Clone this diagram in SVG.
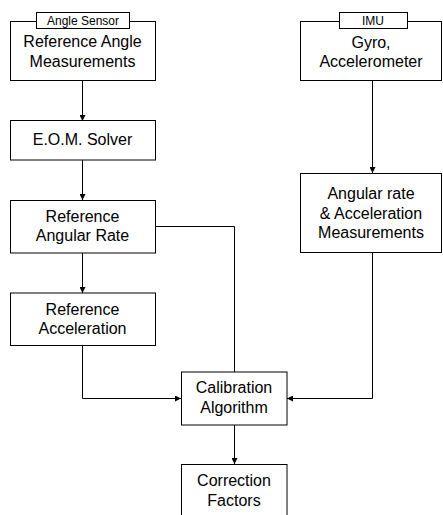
<svg xmlns="http://www.w3.org/2000/svg" width="443" height="515" viewBox="0 0 443 515">
<style>
.box{fill:#fff;stroke:#000;stroke-width:1}
.t{font-family:"Liberation Sans",Arial,sans-serif;font-size:16px;fill:#000;text-anchor:middle}
.s{font-family:"Liberation Sans",Arial,sans-serif;font-size:12px;fill:#000;text-anchor:middle}
.c{fill:none;stroke:#000;stroke-width:1}
</style>
<defs>
<marker id="ah" markerWidth="6" markerHeight="6" refX="6" refY="3" orient="auto" markerUnits="userSpaceOnUse">
<path d="M0,0 L6,3 L0,6 Z" fill="#000"/>
</marker>
</defs>
<rect width="443" height="515" fill="#fff"/>
<g id="connectors">
<path class="c" d="M82.5,81 V121" marker-end="url(#ah)"/>
<path class="c" d="M82.5,160 V200" marker-end="url(#ah)"/>
<path class="c" d="M82.5,253 V293" marker-end="url(#ah)"/>
<path class="c" d="M155,226.5 H234.5 V372"/>
<path class="c" d="M82.5,345 V398.5 H181" marker-end="url(#ah)"/>
<path class="c" d="M372.5,81 V173" marker-end="url(#ah)"/>
<path class="c" d="M372.5,252 V398.5 H287" marker-end="url(#ah)"/>
<path class="c" d="M234.5,425 V464" marker-end="url(#ah)"/>
</g>
<g id="angle-sensor">
<rect class="box" x="10.5" y="21.5" width="145" height="59"/>
<rect class="box" x="36.5" y="12.5" width="93" height="16"/>
<text class="s" x="83" y="25">Angle Sensor</text>
<text class="t" x="82.5" y="47">Reference Angle</text>
<text class="t" x="82.5" y="67">Measurements</text>
</g>
<g id="eom-solver">
<rect class="box" x="10.5" y="120.5" width="145" height="39.5"/>
<text class="t" x="82.5" y="145">E.O.M. Solver</text>
</g>
<g id="ref-angular-rate">
<rect class="box" x="10.5" y="200.5" width="145" height="52.5"/>
<text class="t" x="82.5" y="222">Reference</text>
<text class="t" x="82.5" y="241">Angular Rate</text>
</g>
<g id="ref-acceleration">
<rect class="box" x="10.5" y="293" width="145" height="52.5"/>
<text class="t" x="82.5" y="314.5">Reference</text>
<text class="t" x="82.5" y="334">Acceleration</text>
</g>
<g id="imu">
<rect class="box" x="300.5" y="21.5" width="141" height="59"/>
<rect class="box" x="339.5" y="12.5" width="68" height="16"/>
<text class="s" x="373" y="25">IMU</text>
<text class="t" x="371" y="48">Gyro,</text>
<text class="t" x="371" y="67">Accelerometer</text>
</g>
<g id="imu-measurements">
<rect class="box" x="300.5" y="173.5" width="141" height="79"/>
<text class="t" x="371" y="198.5">Angular rate</text>
<text class="t" x="371" y="218.5">&amp; Acceleration</text>
<text class="t" x="371" y="238">Measurements</text>
</g>
<g id="calibration">
<rect class="box" x="181.5" y="372" width="105.5" height="53"/>
<text class="t" x="234" y="393">Calibration</text>
<text class="t" x="234" y="413">Algorithm</text>
</g>
<g id="correction">
<rect class="box" x="181.5" y="464.5" width="105.5" height="55"/>
<text class="t" x="234" y="486">Correction</text>
<text class="t" x="234" y="506">Factors</text>
</g>
</svg>
